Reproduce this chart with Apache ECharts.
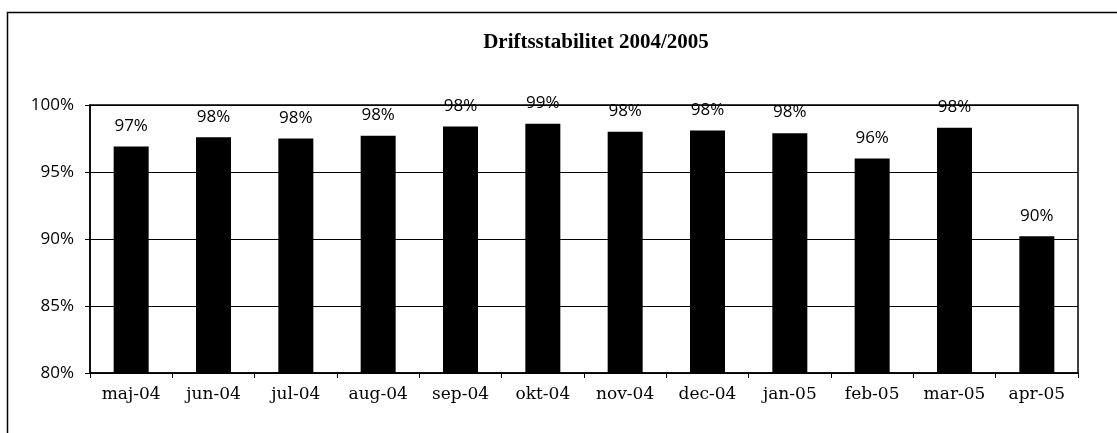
<!DOCTYPE html>
<html lang="da">
<head>
	<meta charset="UTF-8">
	<title>Driftsstabilitet 2004/2005</title>
	<script src="https://cdn.jsdelivr.net/npm/echarts@6/dist/echarts.min.js"></script>
	<style>
		html, body { margin: 0; padding: 0; background: #fff; }
		#chart { width: 1117px; height: 433px; }
	</style>
</head>
<body>
	<div id="chart"></div>

	<script>
		// months shown on the x axis
		let months = ['maj-04', 'jun-04', 'jul-04', 'aug-04', 'sep-04', 'okt-04',
			'nov-04', 'dec-04', 'jan-05', 'feb-05', 'mar-05', 'apr-05'];
		// stability per month, in percent
		let stability = [96.9, 97.6, 97.5, 97.7, 98.4, 98.6, 98.0, 98.1, 97.9, 96.0, 98.3, 90.2];
		// y axis range
		let yMin = 80, yMax = 100, yStep = 5;

		let chart = echarts.init(document.getElementById('chart'));

		let options = {
			animation: false,
			title: {
				text: 'Driftsstabilitet 2004/2005',
				left: 591,
				top: 27,
				textAlign: 'center',
				textStyle: {
					fontFamily: 'Liberation Serif',
					fontWeight: 'bold',
					fontSize: 21,
					color: '#000'
				}
			},
			graphic: [{
				type: 'rect',
				shape: { x: 7.5, y: 12.5, width: 1200, height: 500 },
				style: { fill: 'none', stroke: '#000', lineWidth: 1.5 },
				silent: true
			}],
			grid: {
				left: 90,
				top: 105,
				width: 988,
				height: 268,
				show: true,
				borderColor: '#000',
				borderWidth: 1.5
			},
			xAxis: {
				type: 'category',
				data: months,
				axisLine: { lineStyle: { color: '#000', width: 1.5 } },
				axisTick: { show: true, length: 5, lineStyle: { color: '#000' } },
				axisLabel: {
					color: '#000',
					fontFamily: 'DejaVu Serif',
					fontSize: 17,
					margin: 13
				}
			},
			yAxis: {
				type: 'value',
				min: yMin,
				max: yMax,
				interval: yStep,
				axisLine: { show: true, lineStyle: { color: '#000', width: 1.5 } },
				axisTick: { show: true, length: 5, lineStyle: { color: '#000' } },
				axisLabel: {
					color: '#000',
					fontFamily: 'Open Sans',
					fontSize: 17,
					margin: 16,
					formatter: v => v + '%'
				},
				splitLine: { lineStyle: { color: '#000', width: 1 } }
			},
			series: [{
				type: 'bar',
				data: stability,
				barWidth: 35,
				itemStyle: { color: '#000' },
				label: {
					show: true,
					position: 'top',
					distance: 12,
					color: '#000',
					fontFamily: 'Open Sans',
					fontSize: 17,
					formatter: p => Math.round(p.value) + '%'
				}
			}]
		};
		chart.setOption(options);
	</script>
</body>
</html>
